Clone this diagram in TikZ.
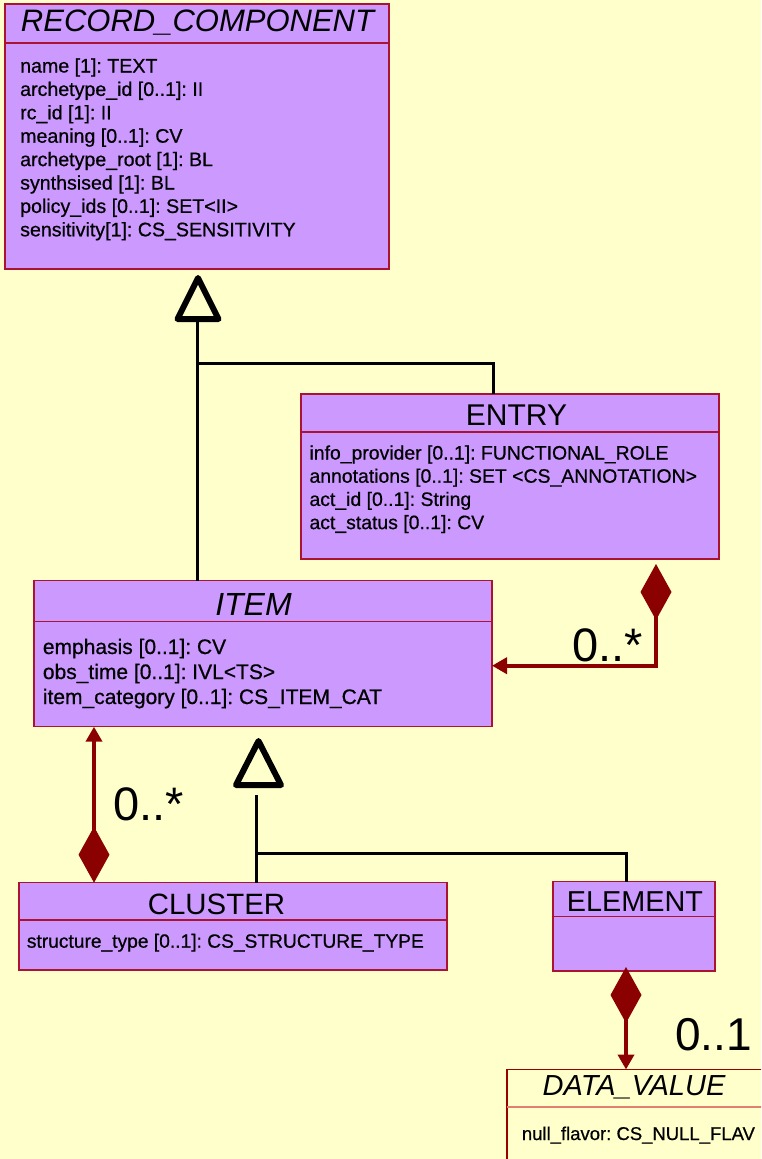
\documentclass[tikz,border=0pt]{standalone}
\usepackage{fontspec}
\setmainfont{Liberation Sans}
\newfontfamily\attrfont[FakeBold=0.6]{Liberation Sans}
\usetikzlibrary{arrows.meta}
\definecolor{bgyellow}{HTML}{FFFFCC}
\definecolor{boxfill}{HTML}{CC99FF}
\definecolor{boxline}{RGB}{170,20,50}
\definecolor{dvline}{HTML}{990000}
\definecolor{dvdiv}{HTML}{E08070}
\definecolor{compred}{HTML}{8B0000}
\frenchspacing
\begin{document}
\begin{tikzpicture}[x=1pt,y=-1pt,
  umlbox/.style={draw=boxline, fill=boxfill, line width=1.5pt, anchor=north west, inner sep=0pt, outer sep=0pt},
  dvbox/.style={draw=dvline, fill=bgyellow, line width=1.5pt, anchor=north west, inner sep=0pt, outer sep=0pt},
  divline/.style={draw=boxline, line width=1.5pt},
  dvdivline/.style={draw=dvdiv, line width=2pt},
  clstitle/.style={anchor=base, inner sep=0pt},
  attr/.style={anchor=base west, inner sep=0pt},
  genline/.style={draw=black, line width=3pt},
  gentri/.style={draw=black, line width=6pt, line join=round},
  compline/.style={draw=compred, line width=4pt,
    arrows={Diamond[length=56pt,width=31pt]-Triangle[length=15pt,width=16pt]}},
  mult/.style={anchor=base west, inner sep=0pt}
]
\useasboundingbox (0,0) rectangle (761,1159);
\clip (0,0) rectangle (761,1159);
\fill[bgyellow] (0,0) rectangle (761,1159);

% ---------- RECORD_COMPONENT ----------
\node[umlbox, minimum width=384pt, minimum height=265pt] (rc) at (5,4) {};
\draw[divline] ([yshift=-39pt]rc.north west) -- ([yshift=-39pt]rc.north east);
\node[clstitle, font=\fontsize{31}{34}\selectfont\itshape] (rct) at (197.5,31.7) {RECORD\_COMPONENT};
\begin{scope}[every node/.style={attr, font=\attrfont\fontsize{19.6}{23}\selectfont}]
\node (rc1) at (20,72.5) {name [1]: TEXT};
\node (rc2) at (20,95.9) {archetype\_id [0..1]: II};
\node (rc3) at (20,119.3) {rc\_id [1]: II};
\node (rc4) at (20,142.7) {meaning [0..1]: CV};
\node (rc5) at (20,166.1) {archetype\_root [1]: BL};
\node (rc6) at (20,189.5) {synthsised [1]: BL};
\node (rc7) at (20,212.9) {policy\_ids [0..1]: SET<II>};
\node (rc8) at (20,236.3) {sensitivity[1]: CS\_SENSITIVITY};
\end{scope}

% ---------- ENTRY ----------
\node[umlbox, minimum width=418pt, minimum height=165pt] (entry) at (301,394) {};
\draw[divline] ([yshift=-38pt]entry.north west) -- ([yshift=-38pt]entry.north east);
\node[clstitle, font=\fontsize{30}{33}\selectfont] (entryt) at (516.5,425.7) {ENTRY};
\begin{scope}[every node/.style={attr, font=\attrfont\fontsize{19.4}{23}\selectfont}]
\node (en1) at (309.3,459.5) {info\_provider [0..1]: FUNCTIONAL\_ROLE};
\node (en2) at (309.3,482.7) {annotations [0..1]: SET <CS\_ANNOTATION>};
\node (en3) at (309.3,505.9) {act\_id [0..1]: String};
\node (en4) at (309.3,529.1) {act\_status [0..1]: CV};
\end{scope}

% ---------- ITEM ----------
\node[umlbox, minimum width=458pt, minimum height=146pt] (item) at (34,580.7) {};
\draw[divline] ([yshift=-41pt]item.north west) -- ([yshift=-41pt]item.north east);
\node[clstitle, font=\fontsize{32}{35}\selectfont\itshape] (itemt) at (253.5,615) {ITEM};
\begin{scope}[every node/.style={attr, font=\attrfont\fontsize{21}{25}\selectfont}]
\node (it1) at (42.7,654) {emphasis [0..1]: CV};
\node (it2) at (42.7,679) {obs\_time [0..1]: IVL<TS>};
\node (it3) at (42.7,704) {item\_category [0..1]: CS\_ITEM\_CAT};
\end{scope}

% ---------- CLUSTER ----------
\node[umlbox, minimum width=428pt, minimum height=87.3pt] (cluster) at (19,882.7) {};
\draw[divline] ([yshift=-37.3pt]cluster.north west) -- ([yshift=-37.3pt]cluster.north east);
\node[clstitle, font=\fontsize{29.4}{32}\selectfont] (clustert) at (216.5,914.3) {CLUSTER};
\node[attr, font=\attrfont\fontsize{19.2}{23}\selectfont] (cl1) at (26.7,947.7) {structure\_type [0..1]: CS\_STRUCTURE\_TYPE};

% ---------- ELEMENT ----------
\node[umlbox, minimum width=162pt, minimum height=89.3pt] (element) at (553,881.7) {};
\draw[divline] ([yshift=-35pt]element.north west) -- ([yshift=-35pt]element.north east);
\node[clstitle, font=\fontsize{28.8}{32}\selectfont] (elementt) at (635,911.7) {ELEMENT};

% ---------- DATA_VALUE ----------
\node[dvbox, minimum width=300pt, minimum height=120pt] (dv) at (507,1069.5) {};
\draw[dvdivline] ([yshift=-37.2pt]dv.north west) -- ([yshift=-37.2pt]dv.north east);
\node[clstitle, font=\fontsize{29}{32}\selectfont\itshape] (dvt) at (634,1095) {DATA\_VALUE};
\node[attr, font=\attrfont\fontsize{18.5}{22}\selectfont] (dv1) at (521.7,1140) {null\_flavor: CS\_NULL\_FLAV};

% ---------- generalization to RECORD_COMPONENT ----------
\coordinate (a1) at (198,278);
\coordinate (t1) at (197,320);
\coordinate (j1) at (197,363);
\draw[gentri] (a1) -- ++(-20.5,41) -- ++(41,0) -- cycle;
\draw[genline] (item.north -| t1) -- (t1);
\draw[genline] ([xshift=-17pt]entry.north) |- (j1);

% ---------- generalization to ITEM ----------
\coordinate (a2) at (258.5,741);
\coordinate (t2) at (256,795);
\coordinate (j2) at (256,853);
\draw[gentri] (a2) -- ++(-22.5,44) -- ++(45,0) -- cycle;
\draw[genline] (cluster.north -| t2) -- (t2);
\draw[genline] ([xshift=-8pt]element.north) |- (j2);

% ---------- compositions ----------
\draw[compline] ([xshift=146pt,yshift=-5pt]entry.south) |- ([yshift=-12pt]item.east);
\draw[compline] ([xshift=-139pt]cluster.north) -- ([xshift=-169pt]item.south);
\draw[compline] ([xshift=-8pt,yshift=4pt]element.south) -- ([xshift=-31pt]dv.north);

% ---------- multiplicities ----------
\node[mult, font=\fontsize{47}{50}\selectfont] (m1) at (572,661.7) {0..*};
\node[mult, font=\fontsize{47}{50}\selectfont] (m2) at (113,820) {0..*};
\node[mult, font=\fontsize{46}{50}\selectfont] (m3) at (675,1050) {0..1};
\end{tikzpicture}
\end{document}
